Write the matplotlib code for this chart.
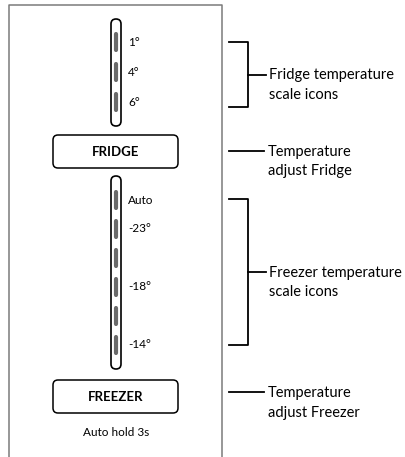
import matplotlib
matplotlib.use('Agg')
import matplotlib.pyplot as plt
from matplotlib.patches import FancyBboxPatch

# panel content
fridge_labels = ['1°', '4°', '6°']
freezer_labels = ['Auto', '-23°', '', '-18°', '', '-14°']
buttons = ['FRIDGE', 'FREEZER']
footer = 'Auto hold 3s'
callouts = [['Fridge temperature', 'scale icons'], ['Temperature', 'adjust Fridge'],
            ['Freezer temperature', 'scale icons'], ['Temperature', 'adjust Freezer']]

W, H = 405, 457
fig = plt.figure(figsize=(W / 100, H / 100), dpi=100)
ax = fig.add_axes([0, 0, 1, 1])
ax.set_xlim(0, W); ax.set_ylim(H, 0); ax.axis('off')

left_font = 'Lato'
right_font = 'Lato'

# panel outline (open at bottom)
ax.plot([9, 9, 222, 222], [H, 5, 5, H], color='#7a7a7a', lw=1.1)

cx = 116
def capsule(y0, y1):
    ax.add_patch(FancyBboxPatch((111, y0), 10, y1 - y0,
                 boxstyle='round,pad=0,rounding_size=5',
                 fc='none', ec='black', lw=1.2))

def dash(y):
    ax.plot([cx, cx], [y - 8, y + 8], color='#6a6a6a', lw=3, solid_capstyle='round')

# fridge scale
capsule(19, 126)
for i, lab in enumerate(fridge_labels):
    y = 42 + i * 30
    dash(y)
    ax.text(128, y, lab, fontsize=8.5, family=left_font, va='center', ha='left')

# fridge button
ax.add_patch(FancyBboxPatch((53, 135), 125, 33, boxstyle='round,pad=0,rounding_size=5',
             fc='none', ec='black', lw=1.1))
ax.text(116, 152, buttons[0], fontsize=9.5, fontweight='bold', family=left_font,
        ha='center', va='center')

# freezer scale
capsule(176, 369)
for i, lab in enumerate(freezer_labels):
    y = 200 + i * 29
    dash(y)
    if lab:
        ax.text(128, y, lab, fontsize=8.5, family=left_font, va='center', ha='left')

# freezer button
ax.add_patch(FancyBboxPatch((53, 380), 125, 33, boxstyle='round,pad=0,rounding_size=5',
             fc='none', ec='black', lw=1.1))
ax.text(116, 397, buttons[1], fontsize=9.5, fontweight='bold', family=left_font,
        ha='center', va='center')
ax.text(116, 432, footer, fontsize=8.5, family=left_font, ha='center', va='center')

# callouts
def label(x, y, lines):
    for k, s in enumerate(lines):
        ax.text(x, y + 1 + k * 19.5, s, fontsize=10.5, family=right_font,
                va='center', ha='left')

def bracket(y0, y1, lines):
    ym = (y0 + y1) / 2
    ax.plot([229, 248, 248, 229], [y0, y0, y1, y1], color='black', lw=1.3)
    ax.plot([248, 266], [ym, ym], color='black', lw=1.3)
    label(269, ym, lines)

def line(y, lines):
    ax.plot([229, 264], [y, y], color='black', lw=1.3)
    label(268, y, lines)

bracket(42, 107, callouts[0])
line(151, callouts[1])
bracket(199, 345, callouts[2])
line(392, callouts[3])

fig.savefig('out.png', dpi=100, facecolor='white')
